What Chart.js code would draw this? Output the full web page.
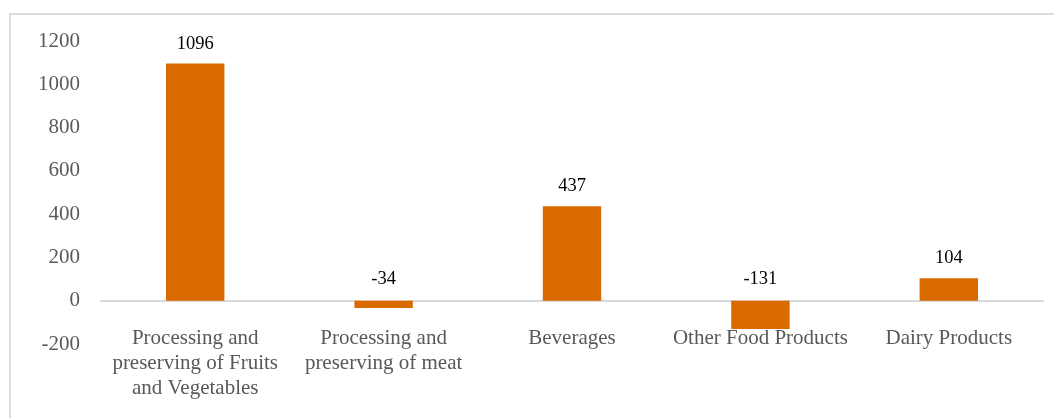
<!DOCTYPE html>
<html lang="en">
<head>
    <meta charset="UTF-8">
    <title>Change by food sub-sector</title>
    <script src="https://cdn.jsdelivr.net/npm/chart.js"></script>
    <style>
        body { margin: 0; background: #fff; }
        .frame {
            position: absolute;
            left: 9px;
            top: 13px;
            width: 1100px;
            height: 500px;
            border: 2px solid #dcdcdc;
        }
        .chart-container {
            position: relative;
            width: 1054px;
            height: 418px;
        }
    </style>
</head>
<body>
    <div class="frame"></div>
    <div class="chart-container">
        <canvas id="chart"></canvas>
    </div>

    <script>
        const categories = [
            ['Processing and', 'preserving of Fruits', 'and Vegetables'],
            ['Processing and', 'preserving of meat'],
            'Beverages',
            'Other Food Products',
            'Dairy Products'
        ];
        const values = [1096, -34, 437, -131, 104];
        const yTicks = [-200, 0, 200, 400, 600, 800, 1000, 1200];

        const serif = "'Liberation Serif', 'Times New Roman', serif";

        // value labels: above the bar for positives, above the zero line for negatives
        const valueLabels = {
            id: 'valueLabels',
            afterDatasetsDraw(chart) {
                const ctx = chart.ctx;
                const zeroY = chart.scales.y.getPixelForValue(0);
                ctx.save();
                ctx.font = '18.5px ' + serif;
                ctx.fillStyle = '#000';
                ctx.textAlign = 'center';
                ctx.textBaseline = 'alphabetic';
                chart.getDatasetMeta(0).data.forEach((bar, i) => {
                    const v = values[i];
                    const y = v >= 0 ? bar.y - 15 : zeroY - 17;
                    ctx.fillText(String(v), bar.x, y);
                });
                ctx.restore();
            }
        };

        new Chart(document.getElementById('chart'), {
            type: 'bar',
            data: {
                labels: categories,
                datasets: [{
                    data: values,
                    backgroundColor: '#d96a00',
                    borderWidth: 0,
                    categoryPercentage: 1,
                    barPercentage: 0.31
                }]
            },
            options: {
                responsive: true,
                maintainAspectRatio: false,
                animation: false,
                layout: { padding: { top: 41, right: 11, bottom: 74, left: 0 } },
                plugins: {
                    legend: { display: false },
                    tooltip: { enabled: false }
                },
                scales: {
                    x: {
                        position: { y: 0 },
                        afterFit: scale => { scale.height = 0; },
                        grid: { display: false, drawTicks: false },
                        border: { display: true, color: '#d9d9d9', width: 2 },
                        ticks: {
                            color: '#595959',
                            font: { family: serif, size: 21, lineHeight: 1.2 },
                            padding: 25,
                            maxRotation: 0,
                            autoSkip: false
                        }
                    },
                    y: {
                        min: -200,
                        max: 1200,
                        afterFit: scale => { scale.width = 101; },
                        afterBuildTicks: scale => {
                            scale.ticks = yTicks.map(v => ({ value: v }));
                        },
                        grid: { display: false, drawTicks: false },
                        border: { display: false },
                        ticks: {
                            color: '#595959',
                            font: { family: serif, size: 21 },
                            padding: 21,
                            callback: v => String(v)
                        }
                    }
                }
            },
            plugins: [valueLabels]
        });
    </script>
</body>
</html>
